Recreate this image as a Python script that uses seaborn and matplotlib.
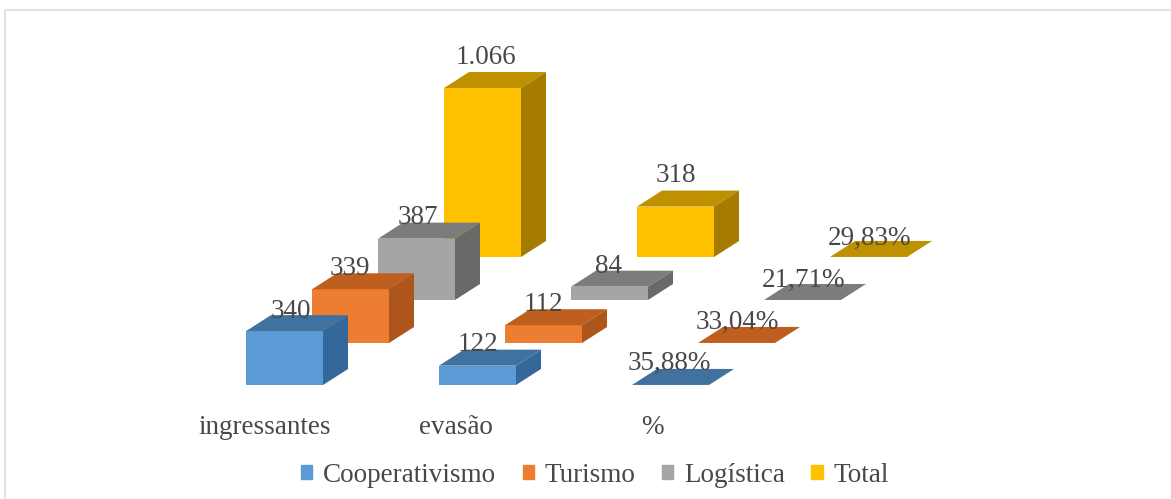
import matplotlib
matplotlib.use("Agg")
import matplotlib.pyplot as plt
from matplotlib.lines import Line2D
from matplotlib.patches import Patch
import pandas as pd
import seaborn as sns

# values
categories = ["ingressantes", "evasão", "%"]
series = ["Cooperativismo", "Turismo", "Logística", "Total"]
cooperativismo = [340, 122, 0.3588]
turismo = [339, 112, 0.3304]
logistica = [387, 84, 0.2171]
total = [1066, 318, 0.2983]
values = [cooperativismo, turismo, logistica, total]
labels = [
    ["340", "122", "35,88%"],
    ["339", "112", "33,04%"],
    ["387", "84", "21,71%"],
    ["1.066", "318", "29,83%"],
]

front_colors = ["#5B9BD5", "#ED7D31", "#A5A5A5", "#FFC000"]
top_colors = ["#41719F", "#BE5F20", "#7C7C7C", "#BF9000"]
side_colors = ["#35689A", "#AD551A", "#696969", "#A67C00"]
text_color = "#484848"

# layout in pixels of the 1171x499 picture
W, H = 1171, 499
PX_PER_UNIT = 0.1585
bar_w = 77
depth_x, depth_y = 25, 16
cat_left = [246, 439, 632]
series_dx = 66
base_px = [385, 343, 300, 257]
label_lift = [[20, 21, 22], [21, 21, 21], [21, 20, 20], [31, 31, 19]]
label_shift = [[6, 0, -1], [-1, 0, 1], [1, -1, 1], [3, 0, 1]]
font_size = 19.5

sns.set_theme(style="white")
plt.rcParams["font.family"] = ["Liberation Serif", "DejaVu Serif"]

fig = plt.figure(figsize=(W / 100, H / 100), dpi=100)
ax = fig.add_axes([0, 0, 1, 1])

# y axis runs in data units, x axis in pixels
dy_unit = depth_y / PX_PER_UNIT


def y_of(px):
    return (H - px) / PX_PER_UNIT


# back row first so the front rows cover it
for s in reversed(range(len(series))):
    left = [c + s * series_dx for c in cat_left]
    bottom = y_of(base_px[s])
    df = pd.DataFrame({"x": [l + bar_w / 2 for l in left], "value": values[s]})
    z = 2 + (len(series) - s) * 2
    sns.barplot(data=df, x="x", y="value", native_scale=True, width=bar_w / 193,
                color=front_colors[s], saturation=1, errorbar=None, bottom=bottom,
                linewidth=0, ax=ax, zorder=z)
    for c, v in enumerate(values[s]):
        x0, x1 = left[c], left[c] + bar_w
        top = bottom + v
        ax.fill([x0, x0 + depth_x, x1 + depth_x, x1], [top, top + dy_unit, top + dy_unit, top],
                color=top_colors[s], lw=0, zorder=z)
        ax.fill([x1, x1 + depth_x, x1 + depth_x, x1], [bottom, bottom + dy_unit, top + dy_unit, top],
                color=side_colors[s], lw=0, zorder=z)
        ax.annotate(labels[s][c], xy=(x0 + bar_w / 2, top),
                    xytext=(label_shift[s][c] * 0.72, label_lift[s][c] * 0.72),
                    textcoords="offset points", ha="center", va="center",
                    fontsize=font_size, color=text_color, zorder=20)

ax.set_xlim(0, W)
ax.set_ylim(0, H / PX_PER_UNIT)
ax.axis("off")

for name, x in zip(categories, [265, 456, 652]):
    ax.text(x, y_of(427), name, ha="center", va="center", fontsize=font_size, color=text_color)

# chart frame, only left and top edges show in the picture
fig.add_artist(Line2D([5 / W, 5 / W, 1], [0, 1 - 10 / H, 1 - 10 / H],
                      color="#DEDEDE", lw=1.2))

handles = [Patch(color=c, label=n) for c, n in zip(front_colors, series)]
ax.legend(handles=handles, loc="center", bbox_to_anchor=(595 / W, 1 - 475 / H), ncol=4,
          frameon=False, fontsize=font_size, labelcolor=text_color, handlelength=0.42,
          handleheight=0.42, handletextpad=0.4, columnspacing=0.97)

fig.savefig("out.png", dpi=100)
